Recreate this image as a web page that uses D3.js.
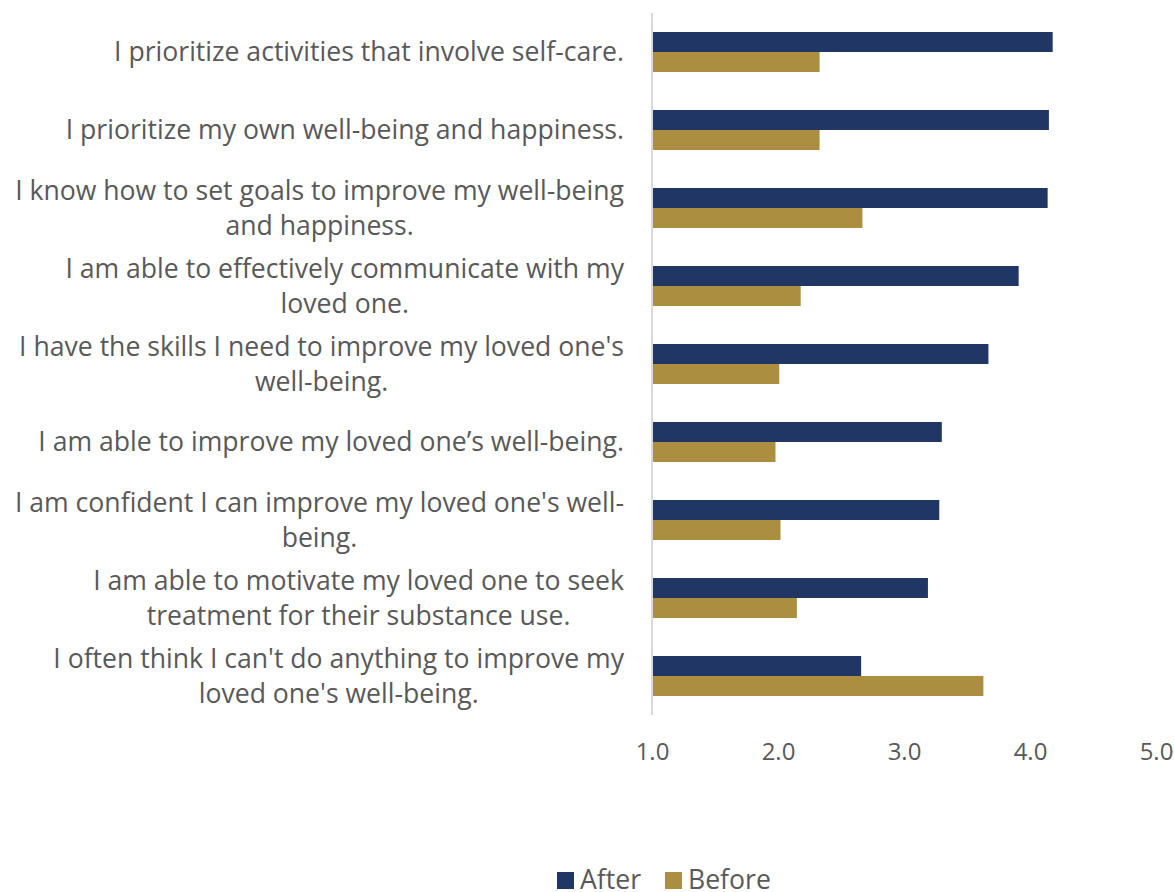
<!DOCTYPE html>
<html>
<head>
<meta charset="utf-8">
<script src="https://cdn.jsdelivr.net/npm/d3@7"></script>
<style>
  html, body { margin: 0; padding: 0; background: #fff; }
  svg { display: block; font-family: "Open Sans", sans-serif; }
</style>
</head>
<body>
<svg id="chart" width="1174" height="892"></svg>
<script>
// Survey statements, each split into the lines it is printed on
const categories = [
  ["I prioritize activities that involve self-care."],
  ["I prioritize my own well-being and happiness."],
  ["I know how to set goals to improve my well-being", "and happiness."],
  ["I am able to effectively communicate with my", "loved one."],
  ["I have the skills I need to improve my loved one's", "well-being."],
  ["I am able to improve my loved one\u2019s well-being."],
  ["I am confident I can improve my loved one's well-", "being."],
  ["I am able to motivate my loved one to seek", "treatment for their substance use."],
  ["I often think I can't do anything to improve my", "loved one's well-being."]
];
const seriesNames = ["After", "Before"];
const afterValues  = [4.18, 4.15, 4.14, 3.91, 3.67, 3.30, 3.28, 3.19, 2.66];
const beforeValues = [2.33, 2.33, 2.67, 2.18, 2.01, 1.98, 2.02, 2.15, 3.63];
const tickValues = [1, 2, 3, 4, 5];
const colors = { After: "#203766", Before: "#AB8E3F" };

const svg = d3.select("#chart");
const plot = { left: 652, right: 1156, top: 13, bottom: 715 };
const textColor = "#595959";

const x = d3.scaleLinear().domain([1, 5]).range([plot.left, plot.right]);
const y = d3.scaleBand()
  .domain(d3.range(categories.length))
  .range([plot.top, plot.bottom])
  .paddingInner(0.487)
  .paddingOuter(0.2435);
const sub = d3.scaleBand().domain(seriesNames).range([0, y.bandwidth()]);

const rows = categories.map((c, i) => ({ i, After: afterValues[i], Before: beforeValues[i] }));

// Bars
const g = svg.append("g");
seriesNames.forEach(name => {
  g.selectAll("rect." + name)
    .data(rows)
    .join("rect")
    .attr("class", name)
    .attr("x", x(1) + 1)
    .attr("y", d => y(d.i) + sub(name))
    .attr("width", d => x(d[name]) - x(1) - 1)
    .attr("height", sub.bandwidth())
    .attr("fill", colors[name]);
});

// Vertical category axis line
svg.append("line")
  .attr("x1", plot.left).attr("x2", plot.left)
  .attr("y1", plot.top).attr("y2", plot.bottom)
  .attr("stroke", "#d9d9d9").attr("stroke-width", 2);

// Value axis tick labels
const xAxis = d3.axisBottom(x).tickValues(tickValues).tickFormat(d3.format(".1f")).tickSize(0);
const xg = svg.append("g").attr("transform", `translate(0, 740)`).call(xAxis);
xg.select(".domain").remove();
xg.selectAll("text")
  .attr("fill", textColor)
  .style("font-family", "'Open Sans', sans-serif")
  .style("font-size", "24px");

// Category labels: block right-aligned at the axis, lines centred within the block
const labelRight = 624;
const lineHeight = 35;
const labels = svg.append("g");
categories.forEach((lines, i) => {
  const cy = y(i) + y.bandwidth() / 2;
  const t = labels.append("text")
    .attr("fill", textColor)
    .style("font-size", "26.6px")
    .attr("text-anchor", "middle");
  const spans = lines.map((ln, k) => t.append("tspan")
    .attr("y", cy + (k - (lines.length - 1) / 2) * lineHeight)
    .attr("dy", "0.35em")
    .text(ln));
  const w = d3.max(spans, s => s.node().getComputedTextLength());
  spans.forEach(s => s.attr("x", labelRight - w / 2));
});

// Legend
const legend = svg.append("g");
const legendItems = [
  { name: "After", x: 557 },
  { name: "Before", x: 665 }
];
legendItems.forEach(it => {
  legend.append("rect")
    .attr("x", it.x).attr("y", 872)
    .attr("width", 17).attr("height", 17)
    .attr("fill", colors[it.name]);
  legend.append("text")
    .attr("x", it.x + 23).attr("y", 880)
    .attr("dy", "0.35em")
    .attr("fill", textColor)
    .style("font-size", "26.6px")
    .text(it.name);
});
</script>
</body>
</html>
